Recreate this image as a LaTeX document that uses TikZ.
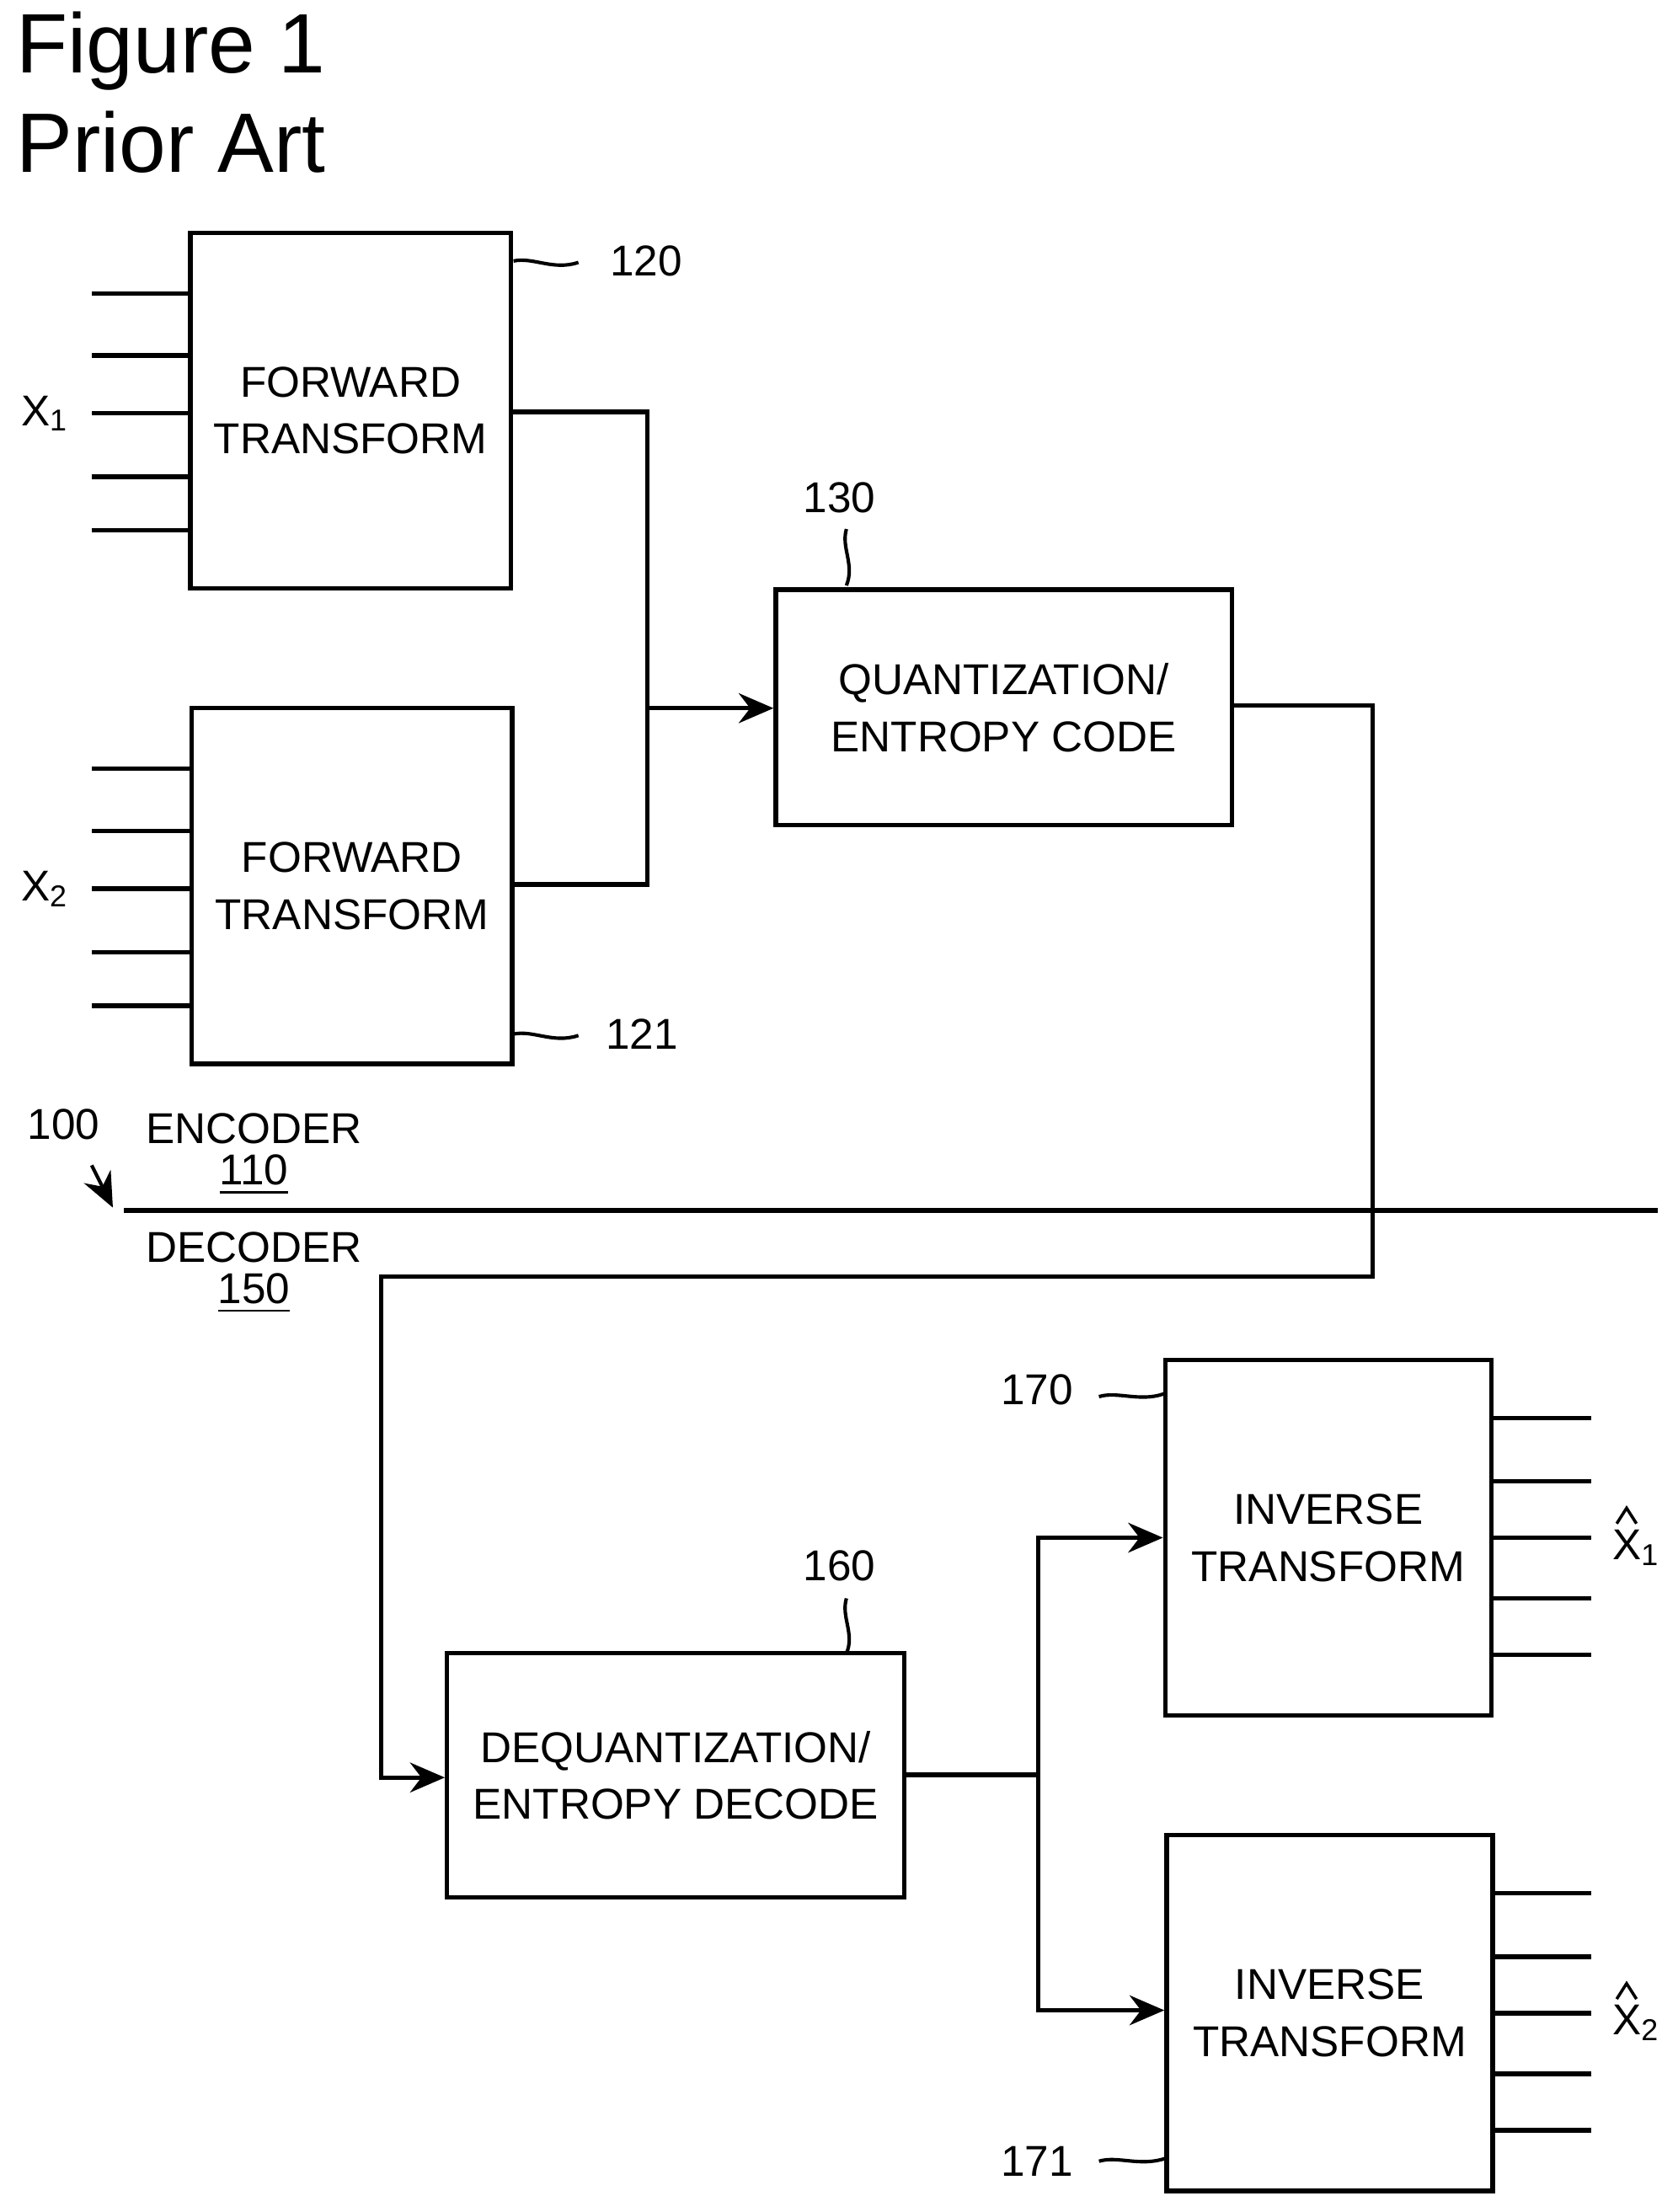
\documentclass[tikz,border=0pt]{standalone}
\usepackage{fontspec}
\setmainfont{Liberation Sans}
\usetikzlibrary{arrows.meta}
\begin{document}
\begin{tikzpicture}[x=0.01cm,y=-0.01cm,line width=0.9pt,
  box/.style={draw,rectangle,align=center,font=\fontsize{8.7}{11.5}\selectfont,inner sep=0},
  lab/.style={font=\fontsize{8.7}{11}\selectfont},
  arr/.style={-{Stealth[length=7pt,width=6pt]}},
  sq/.style={line width=0.7pt}]
\useasboundingbox (0,0) rectangle (1189,1568);
\node[anchor=west,font=\fontsize{17}{20}\selectfont,inner sep=0] (t1) at (10,36) {Figure 1};
\node[anchor=west,font=\fontsize{17}{20}\selectfont,inner sep=0] (t2) at (10,101) {Prior Art};
% boxes
\node[box,minimum width=2.27cm,minimum height=2.52cm] (b120) at (248.5,291) {FORWARD\\TRANSFORM};
\node[box,minimum width=2.27cm,minimum height=2.52cm] (b121) at (249.5,628) {FORWARD\\TRANSFORM};
\node[box,minimum width=3.23cm,minimum height=1.67cm] (b130) at (711.5,501.5) {QUANTIZATION/\\ENTROPY CODE};
\node[box,minimum width=3.24cm,minimum height=1.73cm] (b160) at (479,1258.5) {DEQUANTIZATION/\\ENTROPY DECODE};
\node[box,minimum width=2.31cm,minimum height=2.52cm] (b170) at (941.5,1090) {INVERSE\\TRANSFORM};
\node[box,minimum width=2.31cm,minimum height=2.52cm] (b171) at (942.5,1427) {INVERSE\\TRANSFORM};
% inputs
\foreach \y in {208,252,293,338,376} \draw (65,\y) -- (b120.west |- 0,\y);
\foreach \y in {545,589,630,675,713} \draw (65,\y) -- (b121.west |- 0,\y);
\node[lab] (x1) at (32,293) {X\textsubscript{1}};
\node[lab] (x2) at (32,630) {X\textsubscript{2}};
% outputs
\foreach \y in {1005,1050,1090,1133,1173} \draw (b170.east |- 0,\y) -- (1128,\y);
\foreach \y in {1342,1387,1427,1470,1510} \draw (b171.east |- 0,\y) -- (1128,\y);
\node[lab] (y1) at (1160,1097) {X\textsubscript{1}};
\node[lab] (y2) at (1160,1434) {X\textsubscript{2}};
\draw[line width=0.6pt] (1146,1080) -- (1153,1069) -- (1160,1080);
\draw[line width=0.6pt] (1146,1417) -- (1153,1406) -- (1160,1417);
% connectors
\coordinate (j1) at (459,502);
\draw (b120.east |- 0,292) -| (j1);
\draw (b121.east |- 0,627) -| (j1);
\draw[arr] (j1) -- (b130.west |- j1);
\coordinate (c1) at (973,905);
\coordinate (c2) at (270,905);
\draw[arr] (b130.east |- 0,500) -| (c1) -- (c2) |- (b160.west |- 0,1260);
\coordinate (j2) at (736,1258);
\draw (b160.east |- j2) -- (j2);
\draw[arr] (j2) |- (b170.west |- 0,1090);
\draw[arr] (j2) |- (b171.west |- 0,1425);
% divider
\coordinate (d1) at (88,858); \coordinate (d2) at (1175,858);
\draw (d1) -- (d2);
\coordinate (a100) at (65,826);
\draw[arr,line width=0.7pt] (a100) -- (80,856);
\node[lab] (l100) at (45,797) {100};
\node[lab] (enc) at (180,800) {ENCODER};
\node[lab] (n110) at (180,833) {\underline{110}};
\node[lab] (dec) at (180,884) {DECODER};
\node[lab] (n150) at (180,917) {\underline{150}};
% reference labels
\node[lab] (l120) at (458,185) {120};
\draw[sq] (364,185) .. controls (378,182) and (392,192) .. (410,186);
\node[lab] (l121) at (455,733) {121};
\draw[sq] (364,733) .. controls (378,730) and (392,740) .. (410,734);
\node[lab] (l130) at (595,353) {130};
\draw[sq] (600,375) .. controls (596,388) and (606,400) .. (600,415);
\node[lab] (l160) at (595,1110) {160};
\draw[sq] (600,1133) .. controls (596,1146) and (606,1158) .. (600,1172);
\node[lab] (l170) at (735,985) {170};
\draw[sq] (779,990) .. controls (792,986) and (808,994) .. (825,988);
\node[lab] (l171) at (735,1532) {171};
\draw[sq] (779,1532) .. controls (792,1528) and (808,1536) .. (826,1530);
\end{tikzpicture}
\end{document}
